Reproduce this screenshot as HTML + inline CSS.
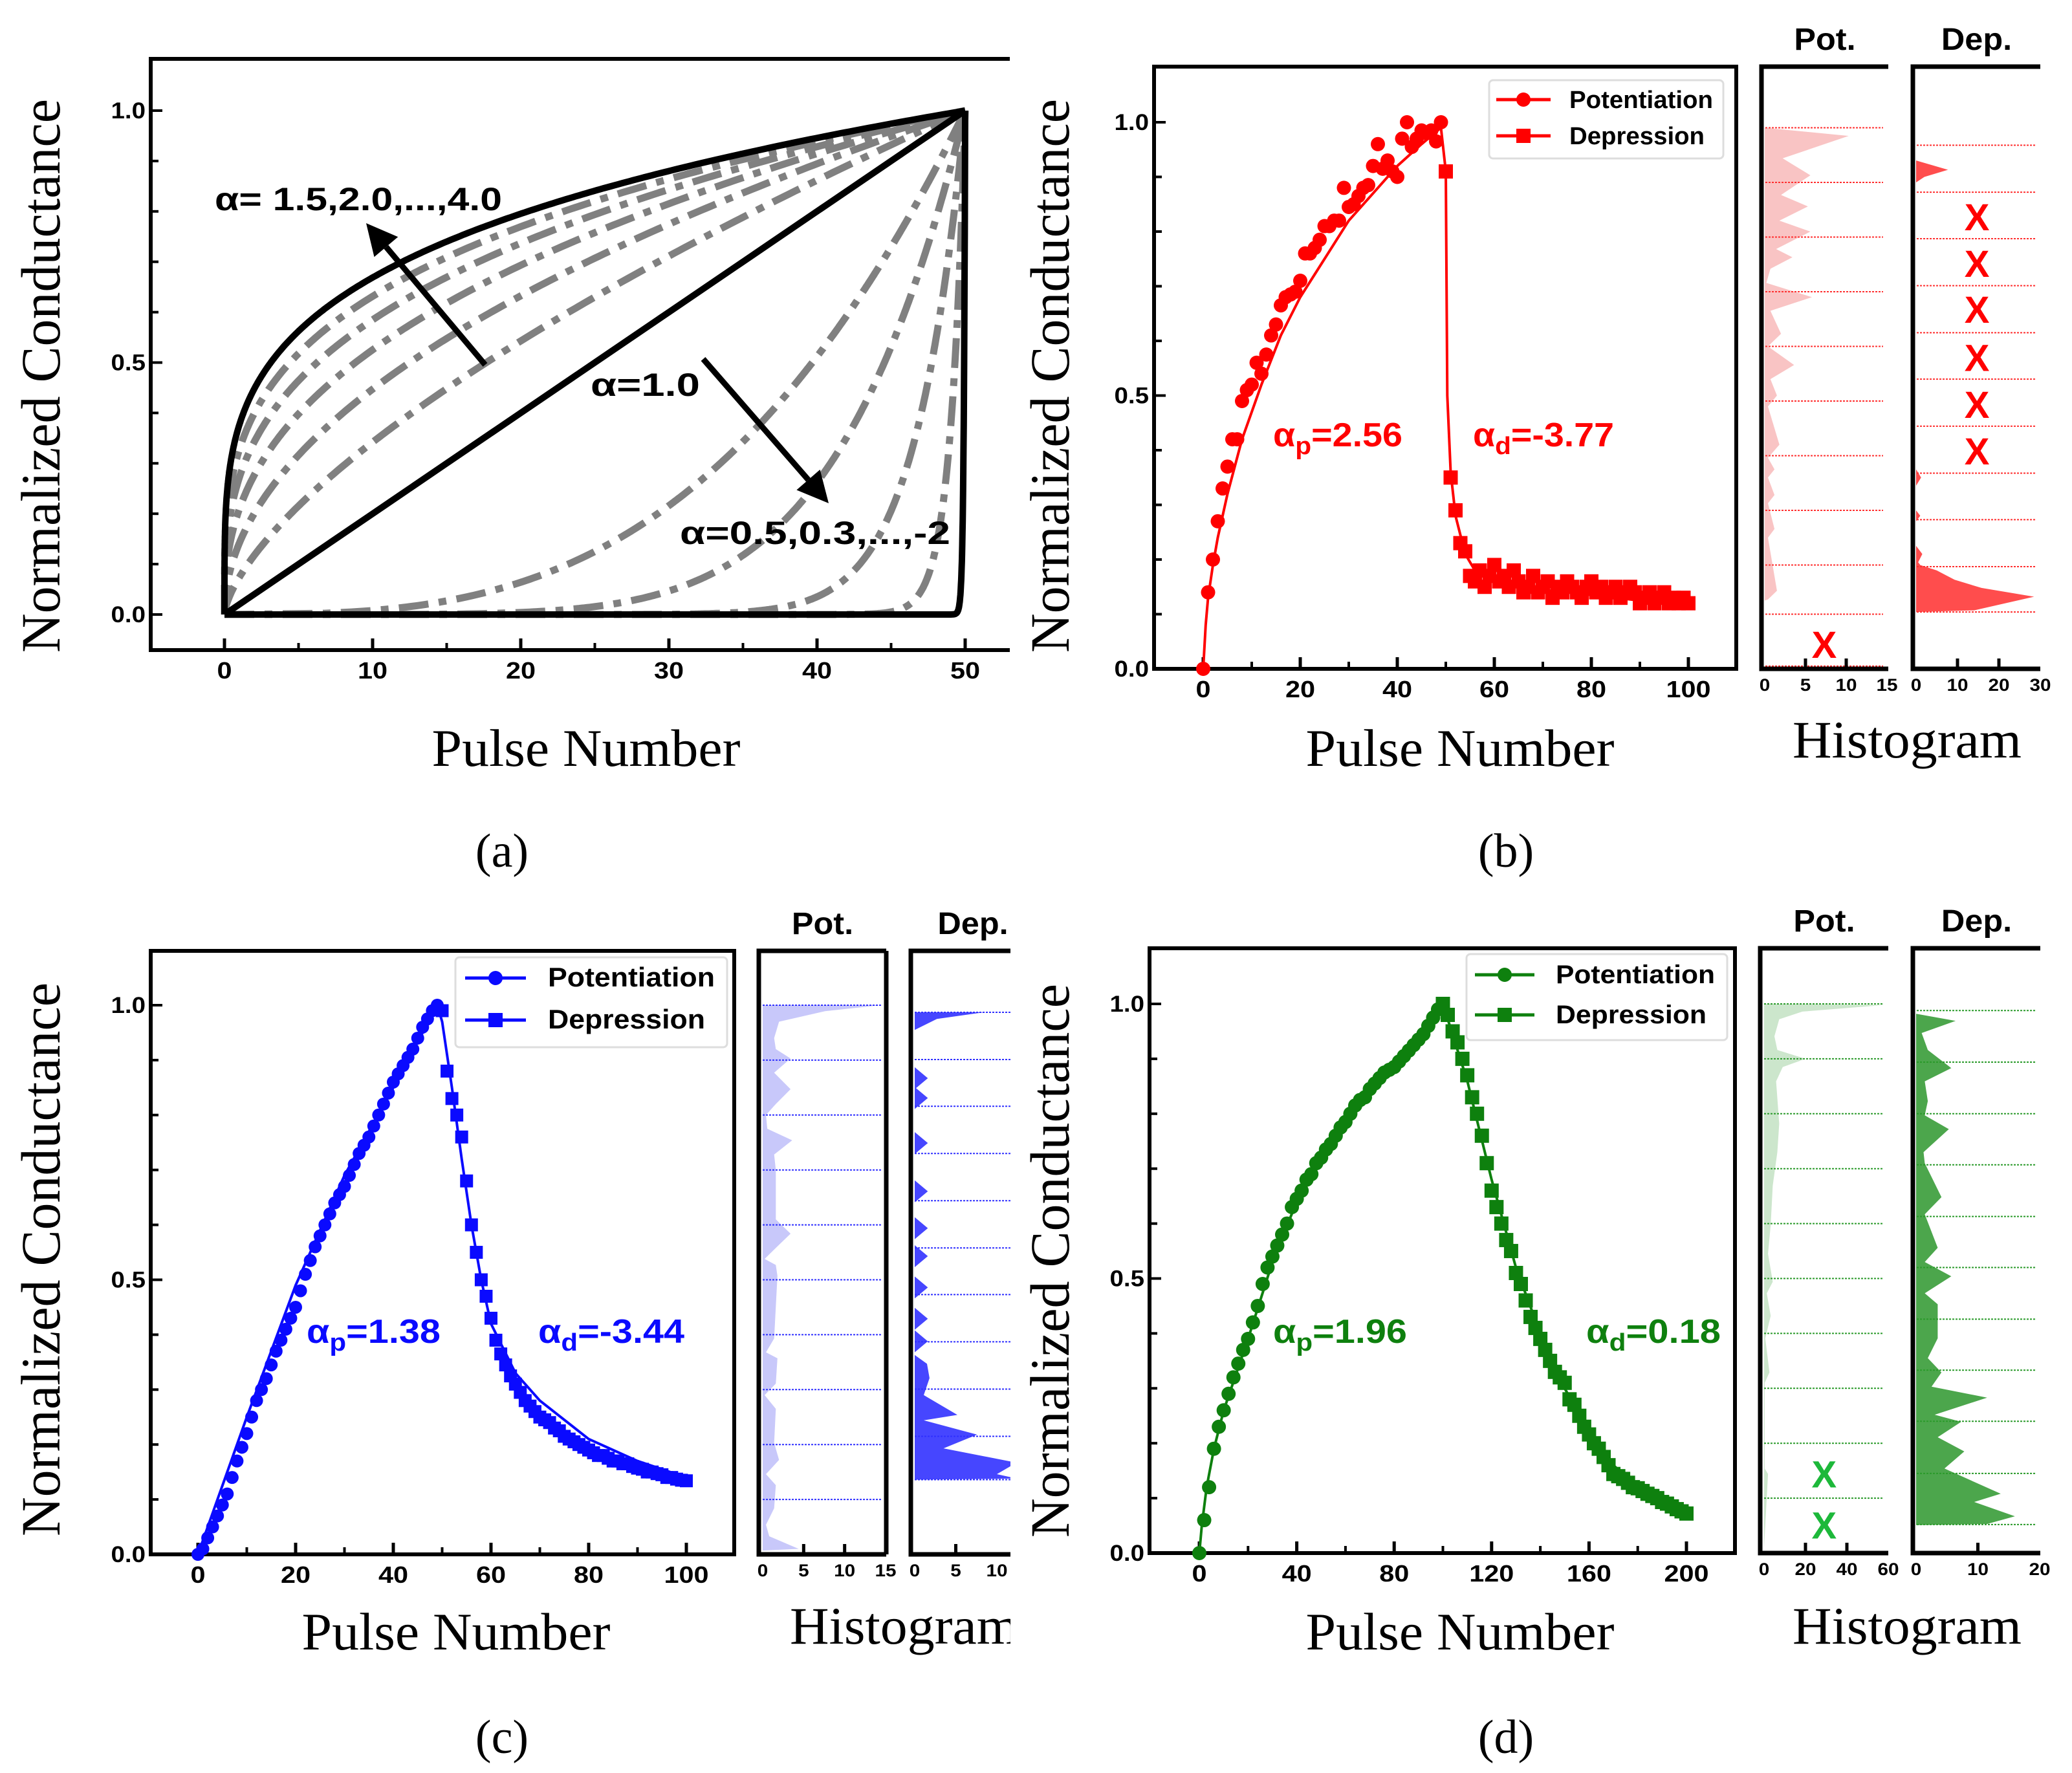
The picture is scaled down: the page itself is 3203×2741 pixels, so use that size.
<!DOCTYPE html>
<html><head><meta charset="utf-8"><title>Nonlinearity figure</title>
<style>html,body{margin:0;padding:0;background:#fff}svg{display:block}</style></head>
<body>
<svg id="fig" xmlns="http://www.w3.org/2000/svg" width="3203" height="2741" viewBox="0 0 3203 2741">
<defs><clipPath id="clipC"><rect x="0" y="1300" width="1562" height="1441"/></clipPath></defs>
<rect x="0" y="0" width="3203" height="2741" fill="#fff"/>
</svg>
<script>
// ---------- DATA ----------
const aUpperAlphas=[1.5,2.0,2.5,3.0,3.5];
const aBlackAlpha=4.0;
const aLowerExps=[3,6,15,50];
const aXTicks=[0,10,20,30,40,50];
const yTicks=[0.0,0.5,1.0];
// (b)
const bPotY=[0,0.14,0.2,0.27,0.33,0.37,0.42,0.42,0.49,0.51,0.52,0.56,0.54,0.575,0.61,0.63,0.665,0.68,0.685,0.69,0.71,0.76,0.76,0.77,0.785,0.81,0.81,0.82,0.82,0.88,0.845,0.85,0.865,0.88,0.885,0.92,0.96,0.915,0.93,0.91,0.90,0.97,1.0,0.955,0.97,0.985,0.98,0.985,0.965,1.0];
const bDepY=[0.91,0.35,0.29,0.23,0.215,0.17,0.16,0.18,0.15,0.17,0.19,0.16,0.17,0.15,0.18,0.16,0.14,0.15,0.17,0.14,0.15,0.16,0.13,0.15,0.14,0.16,0.15,0.14,0.13,0.15,0.16,0.14,0.15,0.13,0.14,0.15,0.13,0.14,0.15,0.14,0.12,0.13,0.14,0.12,0.13,0.14,0.12,0.13,0.12,0.13,0.12];
const bPotFitX=[0,0.5,1,2,3,5,8,12,16,20,25,30,35,40,45,49];
const bPotFitY=[0,0.08,0.13,0.19,0.24,0.32,0.42,0.52,0.61,0.68,0.75,0.82,0.87,0.92,0.96,0.99];
const bDepFitX=[49,50,50.3,51,52,54,56,60,70,80,90,100];
const bDepFitY=[0.99,0.91,0.5,0.36,0.28,0.21,0.18,0.16,0.145,0.135,0.125,0.12];
const bXTicks=[0,20,40,60,80,100];
const bPotHG=[0.99,0.975,0.934,0.903,0.867,0.846,0.82,0.80,0.768,0.753,0.732,0.706,0.68,0.655,0.613,0.59,0.556,0.53,0.5,0.48,0.41,0.386,0.365,0.35,0.318,0.303,0.256,0.24,0.143,0.127,0.125];
const bPotHN=[0,10.3,2.2,5.6,2,5.3,1.8,5.6,1.4,3.4,0.7,0.2,5.8,0.7,2,0.4,3.6,0.7,1.5,0.4,1.8,0.4,1.2,0.4,1.2,0.4,1.2,0.4,1.5,0.4,0];
const bDepHG=[0.93,0.913,0.90,0.89,0.365,0.35,0.335,0.29,0.28,0.27,0.225,0.21,0.195,0.19,0.18,0.163,0.148,0.132,0.107,0.104];
const bDepHN=[0,7.7,2,0,0,1.2,0,0,1,0,0,1.5,0.5,1,5,9.3,15.8,28.5,14,0];
const bPotLines=[0.99,0.89,0.79,0.69,0.59,0.49,0.39,0.29,0.19,0.1,0.005];
const bDepLines=[0.958,0.872,0.787,0.701,0.615,0.53,0.444,0.358,0.273,0.187,0.104];
const bPotXG=[0.045]; const bPotXN=[7.3];
const bDepXG=[0.827,0.742,0.658,0.57,0.484,0.399]; const bDepXN=[14.7,14.7,14.7,14.7,14.7,14.7];
const bPotTicks=[0,5,10,15]; const bDepTicks=[0,10,20,30];
// (c)
const cPotY=[0,0.01,0.03,0.05,0.07,0.09,0.11,0.14,0.17,0.195,0.22,0.25,0.28,0.30,0.32,0.345,0.37,0.39,0.41,0.43,0.45,0.48,0.51,0.535,0.56,0.58,0.60,0.62,0.64,0.655,0.67,0.69,0.71,0.73,0.745,0.76,0.78,0.80,0.82,0.84,0.86,0.875,0.89,0.905,0.92,0.94,0.96,0.975,0.99,1.0];
const cDepY=[0.99,0.88,0.83,0.80,0.76,0.68,0.60,0.55,0.50,0.47,0.43,0.39,0.365,0.345,0.325,0.31,0.295,0.28,0.27,0.26,0.25,0.245,0.24,0.23,0.225,0.215,0.21,0.205,0.20,0.195,0.19,0.185,0.18,0.18,0.175,0.17,0.17,0.165,0.165,0.16,0.157,0.155,0.15,0.15,0.147,0.145,0.14,0.14,0.137,0.135,0.134];
const cPotFitX=[0,10,20,30,40,46,49];
const cPotFitY=[0,0.25,0.49,0.69,0.85,0.95,1.0];
const cDepFitX=[49,50,52,54,56,58,60,65,70,80,90,100];
const cDepFitY=[1,0.97,0.85,0.72,0.6,0.5,0.42,0.33,0.28,0.21,0.17,0.14];
const cXTicks=[0,20,40,60,80,100];
const cPotHG=[1.0,1.0,0.989,0.97,0.94,0.92,0.903,0.877,0.847,0.82,0.80,0.775,0.754,0.728,0.70,0.61,0.584,0.558,0.538,0.527,0.507,0.393,0.368,0.357,0.311,0.29,0.265,0.203,0.172,0.146,0.126,0.084,0.054,0.033,0.01,0.007];
const cPotHN=[0,14.4,7.6,2,1.4,1.6,3.4,1.4,3.4,1.6,0.4,0.56,3.6,1.4,1.6,1.6,3.4,1.6,0.24,1.6,1.8,1.4,0.4,1.8,1.6,0.24,1.6,1.4,2,0.4,1.6,1.4,0.4,0.8,4.4,0];
const cDepHG=[0.987,0.987,0.975,0.955,0.887,0.867,0.847,0.851,0.831,0.811,0.769,0.749,0.729,0.681,0.661,0.641,0.614,0.594,0.574,0.563,0.543,0.523,0.506,0.486,0.466,0.449,0.429,0.409,0.408,0.388,0.368,0.363,0.347,0.321,0.29,0.254,0.244,0.218,0.193,0.167,0.146,0.138,0.136];
const cDepHN=[0,8.4,2.7,0,0,1.6,0,0,1.6,0,0,1.6,0,0,1.6,0,0,1.6,0,0,1.6,0,0,1.6,0,0,1.6,0,0,1.6,0,0,1.5,1.8,1.1,5.2,1.1,7.6,3.5,12.4,10,12.4,0];
const cPotLines=[1.0,0.9,0.8,0.7,0.6,0.5,0.4,0.3,0.2,0.1];
const cDepLines=[0.987,0.901,0.816,0.73,0.644,0.558,0.473,0.387,0.301,0.215,0.136];
const cPotTicks=[0,5,10,15]; const cDepTicks=[0,5,10];
// (d)
const dPotX=[0,2,4,6,8,10,12,14,16,18,20,22,24,26,28,30,32,34,36,38,40,42,44,46,48,50,52,54,56,58,60,62,64,66,68,70,72,74,76,78,80,82,84,86,88,90,92,94,96,98];
const dPotY=[0,0.06,0.12,0.19,0.23,0.26,0.29,0.32,0.345,0.37,0.39,0.42,0.45,0.49,0.52,0.54,0.56,0.58,0.60,0.63,0.645,0.66,0.68,0.69,0.71,0.72,0.735,0.745,0.76,0.775,0.785,0.80,0.815,0.825,0.83,0.845,0.855,0.865,0.875,0.88,0.885,0.895,0.905,0.915,0.925,0.935,0.945,0.96,0.975,0.99];
const dDepX=[100,102,104,106,108,110,112,114,116,118,120,122,124,126,128,130,132,134,136,138,140,142,144,146,148,150,152,154,156,158,160,162,164,166,168,170,172,174,176,178,180,182,184,186,188,190,192,194,196,198,200];
const dDepY=[1.0,0.98,0.95,0.93,0.90,0.87,0.83,0.80,0.76,0.71,0.66,0.63,0.60,0.57,0.55,0.51,0.49,0.46,0.43,0.41,0.39,0.37,0.35,0.33,0.32,0.31,0.28,0.27,0.25,0.23,0.216,0.20,0.19,0.175,0.16,0.144,0.14,0.135,0.128,0.12,0.118,0.113,0.108,0.104,0.10,0.093,0.09,0.085,0.08,0.076,0.072];
const dPotFitX=[0,1,3,6,10,20,30,40,50,60,70,80,90,100];
const dPotFitY=[0,0.05,0.12,0.19,0.26,0.39,0.53,0.64,0.72,0.79,0.845,0.89,0.94,1.0];
const dDepFitX=[100,110,120,130,140,150,160,170,180,190,200];
const dDepFitY=[1.0,0.86,0.68,0.52,0.4,0.3,0.22,0.16,0.12,0.095,0.075];
const dXTicks=[0,40,80,120,160,200];
const dPotHG=[1.0,0.998,0.986,0.972,0.941,0.916,0.90,0.885,0.859,0.782,0.73,0.669,0.597,0.545,0.494,0.473,0.432,0.391,0.329,0.31,0.154,0.144,0.01];
const dPotHN=[0,58,18.5,7.3,5,6.4,20,9,5.8,7.3,6.4,4.2,3.2,1.9,4.2,1.3,3.2,0.6,2.6,0.3,0.3,1.9,0];
const dDepHG=[0.982,0.969,0.947,0.916,0.883,0.859,0.823,0.797,0.772,0.730,0.710,0.648,0.617,0.556,0.530,0.504,0.473,0.453,0.391,0.355,0.329,0.303,0.283,0.252,0.239,0.211,0.185,0.154,0.108,0.093,0.067,0.053,0.051];
const dDepHN=[0,6.4,0.9,1.9,5.7,1.4,1.9,1.4,5.3,1.2,1.4,4.1,1.4,3.5,1.4,5.7,1.4,3.5,3.5,1.9,4.1,2.5,11.5,3,7.3,3.5,7.8,4.6,13.7,9.4,16,11.5,0];
const dPotLines=[1.0,0.9,0.8,0.7,0.6,0.5,0.4,0.3,0.2,0.1];
const dDepLines=[0.988,0.894,0.80,0.707,0.613,0.52,0.426,0.333,0.24,0.145,0.052];
const dPotXG=[0.144,0.051]; const dPotXN=[29,29];
const dPotTicks=[0,20,40,60]; const dDepTicks=[0,10,20];

// ---------- HELPERS ----------
const NS='http://www.w3.org/2000/svg';
const svg=document.getElementById('fig');
function el(tag,attrs,parent){const e=document.createElementNS(NS,tag);for(const k in attrs)e.setAttribute(k,attrs[k]);(parent||svg).appendChild(e);return e;}
function lin(d0,d1,r0,r1){return v=>r0+(v-d0)*(r1-r0)/(d1-d0);}
const SANS='"Liberation Sans", "DejaVu Sans", sans-serif';
const SERIF='"Liberation Serif", "DejaVu Serif", serif';
function stext(parent,x,y,str,size,anchor,sx){
  const t=el('text',{transform:`translate(${x},${y}) scale(${sx||1.2},1)`,'font-family':SANS,'font-weight':'bold','font-size':size,'text-anchor':anchor||'middle',fill:'#000'},parent);
  t.textContent=str;return t;
}
function ltext(parent,x,y,str,size,len,opts){
  opts=opts||{};
  const t=el('text',{x:x,y:y,'font-family':opts.serif?SERIF:SANS,'font-weight':opts.serif?'normal':'bold','font-size':size,'text-anchor':opts.anchor||'start',fill:opts.fill||'#000',textLength:len,lengthAdjust:'spacingAndGlyphs'},parent);
  if(opts.rot)t.setAttribute('transform',`rotate(-90 ${x} ${y})`);
  t.textContent=str;return t;
}
function pathFrom(xs,ys,X,Y){return xs.map((v,i)=>(i?'L':'M')+X(v).toFixed(1)+','+Y(ys[i]).toFixed(1)).join(' ');}

function axesFrame(g,box,X,Y,xt,xminor,topOnlyOpen){
  const {l,r,t,b}=box;
  if(topOnlyOpen){
    const fr=el('path',{d:`M${r},${t} L${l},${t} L${l},${b} L${r},${b}`,fill:'none',stroke:'#000','stroke-width':6},g);
    
  } else {
    const fr=el('rect',{x:l,y:t,width:r-l,height:b-t,fill:'none',stroke:'#000','stroke-width':6},g);
    
  }
  xt.forEach(v=>{
    const tk=el('line',{x1:X(v),x2:X(v),y1:b,y2:b-18,stroke:'#000','stroke-width':5},g);
    
    const lb=stext(g,X(v),b+44,String(v),36,'middle',1.15);
    
  });
  xminor.forEach(v=>{
    const tk=el('line',{x1:X(v),x2:X(v),y1:b,y2:b-11,stroke:'#000','stroke-width':4},g);
    
  });
  for(let k=0;k<=10;k++){
    const v=k/10;
    const tk=el('line',{x1:l,x2:l+(k%5===0?18:12),y1:Y(v),y2:Y(v),stroke:'#000','stroke-width':4},g);
    
  }
  yTicks.forEach(v=>{
    const lb=stext(g,l-8,Y(v)+12,v.toFixed(1),35,'end',1.1);
    
  });
}

function scatter(g,xs,ys,X,Y,color,shape,r){
  xs.forEach((v,i)=>{
    let m;
    if(shape==='circle'){m=el('circle',{cx:X(v),cy:Y(ys[i]),r:r,fill:color},g);}
    else {m=el('rect',{x:X(v)-r,y:Y(ys[i])-r,width:2*r,height:2*r,fill:color},g);}
    
    
  });
}
function seq(start,n){const a=[];for(let i=0;i<n;i++)a.push(start+i);return a;}

function histPanel(g,box,Y,c0,cMax,cMaxPx,HG,HN,lines,fill,lineColor,ticks,title,name){
  const {l,r,t,b}=box;
  const C=lin(0,cMax,c0,cMaxPx);
  const hg=el('g',{},g);
  const pts=[[C(0),Y(HG[0])]].concat(HG.map((v,i)=>[C(HN[i]),Y(v)])).concat([[C(0),Y(HG[HG.length-1])]]);
  const poly=el('polygon',{points:pts.map(p=>p[0].toFixed(1)+','+p[1].toFixed(1)).join(' '),fill:fill},hg);
  
  lines.forEach(v=>{
    const ln=el('line',{x1:l+6,x2:r-8,y1:Y(v),y2:Y(v),stroke:lineColor,'stroke-width':2,'stroke-dasharray':'3,2'},hg);
    
  });
  const fr=el('path',{d:`M${r},${t} L${l},${t} L${l},${b} L${r},${b}`+(r<1560?` M${r},${t} L${r},${b}`:''),fill:'none',stroke:'#000','stroke-width':7},hg);
  
  ticks.forEach((v,i)=>{
    if(i>0&&i<ticks.length-1){
      const tk=el('line',{x1:C(v),x2:C(v),y1:b,y2:b-16,stroke:'#000','stroke-width':5},hg);
      
    }
    const lb=stext(hg,C(v),b+34,String(v),27,'middle',1.1);
    
  });
  const tt=stext(hg,(l+r)/2,t-26,title,48,'middle',1.05);
  
  return C;
}
function xMarks(g,C,Y,XG,XN,color){
  XG.forEach((v,i)=>{
    const m=el('text',{x:C(XN[i]),y:Y(v)+21,'font-family':SANS,'font-weight':'bold','font-size':58,'text-anchor':'middle',fill:color},g);
    m.textContent='X';
    
  });
}
function legend(g,bx,by,bw,bh,lx0,lx1,tx,y1,y2,color,fs,len1,len2){
  const lg=el('g',{},g);
  const rc=el('rect',{x:bx,y:by,width:bw,height:bh,rx:6,fill:'#fff',stroke:'#ddd','stroke-width':3},lg);
  
  [[y1,'circle','Potentiation',len1],[y2,'square','Depression',len2]].forEach(e=>{
    const ln=el('line',{x1:lx0,x2:lx1,y1:e[0],y2:e[0],stroke:color,'stroke-width':5},lg);
    
    const cx=(lx0+lx1)/2;
    const m=e[1]==='circle'?el('circle',{cx:cx,cy:e[0],r:11,fill:color},lg):el('rect',{x:cx-11,y:e[0]-11,width:22,height:22,fill:color},lg);
    
    const t=ltext(lg,tx,e[0]+13,e[2],fs,e[3]);
    
  });
}
function alphaText(g,x,y,sub,val,len,color){
  const t=el('text',{x:x,y:y,'font-family':SANS,'font-weight':'bold','font-size':52,fill:color,textLength:len,lengthAdjust:'spacingAndGlyphs'},g);
  const a=el('tspan',{},t);a.textContent='α';
  const s=el('tspan',{'font-size':38,dy:12},t);s.textContent=sub;
  const v=el('tspan',{dy:-12},t);v.textContent=val;
  
}
function titles(g,ytx,yty,ylen,pnx,pny,label,lx,ly,hx,hy,hlen){
  const yt=ltext(g,ytx,yty,'Normalized Conductance',86,ylen,{serif:true,anchor:'middle',rot:true});
  
  const xt=ltext(g,pnx,pny,'Pulse Number',82,477,{serif:true,anchor:'middle'});
  
  if(hx!==undefined){
    const ht=ltext(g,hx,hy,'Histogram',82,354,{serif:true,anchor:'middle'});
    
  }
  const pl=el('text',{x:lx,y:ly,'font-family':SERIF,'font-size':74,'text-anchor':'middle',fill:'#000'},g);
  pl.textContent=label;
  
}

// ---------- PANEL A ----------
(function(){
  const g=el('g',{});
  const X=lin(0,50,347,1492),Y=lin(0,1,950,171);
  const pathFn=(fn,n,warp)=>{let d='';for(let i=0;i<=n;i++){const tt=i/n;const p=warp?Math.pow(tt,warp):tt;d+=(i?'L':'M')+X(p*50).toFixed(1)+','+Y(fn(p)).toFixed(1)+' ';}return d;};
  aUpperAlphas.forEach(a=>{
    const c=el('path',{d:pathFn(p=>Math.pow(p,1/a),300,3),fill:'none',stroke:'#808080','stroke-width':11,'stroke-dasharray':'46,16,12,16'},g);
    
  });
  aLowerExps.forEach(k=>{
    const c=el('path',{d:pathFn(p=>Math.pow(p,k),400,1/3),fill:'none',stroke:'#808080','stroke-width':11,'stroke-dasharray':'46,16,12,16'},g);
    
  });
  const bu=el('path',{d:pathFn(p=>Math.pow(p,1/aBlackAlpha),400,3),fill:'none',stroke:'#000','stroke-width':10},g);
  
  const bl=el('path',{d:pathFn(p=>p,10),fill:'none',stroke:'#000','stroke-width':10},g);
  
  const bb=el('path',{d:pathFn(p=>Math.pow(p,500),600,1/6),fill:'none',stroke:'#000','stroke-width':10},g);
  
  axesFrame(g,{l:233,r:1561,t:91,b:1005},X,Y,aXTicks,[5,15,25,35,45],true);
  function arrow(x1,y1,x2,y2,name){
    const ang=Math.atan2(y2-y1,x2-x1),L=48,W=24;
    const bx=x2-L*Math.cos(ang),by=y2-L*Math.sin(ang);
    const ln=el('line',{x1:x1,y1:y1,x2:bx,y2:by,stroke:'#000','stroke-width':9},g);
    
    const hp=el('polygon',{points:`${x2},${y2} ${bx+W*Math.sin(ang)},${by-W*Math.cos(ang)} ${bx-W*Math.sin(ang)},${by+W*Math.cos(ang)}`,fill:'#000'},g);
    
  }
  arrow(750,564,566,345,'arrow-up');
  arrow(1087,555,1281,778,'arrow-down');
  const t1=ltext(g,332,325,'α= 1.5,2.0,...,4.0',50,444);
  const t2=ltext(g,913,612,'α=1.0',50,169);
  const t3=ltext(g,1051,841,'α=0.5,0.3,...,-2',50,418);
  titles(g,92,581,856,906,1184,'(a)',776,1340);
})();

// ---------- PANEL B ----------
(function(){
  const g=el('g',{});
  const X=lin(0,100,1860,2610),Y=lin(0,1,1034,189);
  const col='#ff0000';
  axesFrame(g,{l:1784,r:2684,t:103,b:1034},X,Y,bXTicks,[10,30,50,70,90]);
  const f1=el('path',{d:pathFrom(bPotFitX,bPotFitY,X,Y),fill:'none',stroke:col,'stroke-width':4},g);
  
  const f2=el('path',{d:pathFrom(bDepFitX,bDepFitY,X,Y),fill:'none',stroke:col,'stroke-width':4},g);
  
  scatter(g,seq(0,bPotY.length),bPotY,X,Y,col,'circle',11);
  scatter(g,seq(50,bDepY.length),bDepY,X,Y,col,'square',11);
  legend(g,2302,124,362,121,2313,2397,2426,154,210,col,38,222,209);
  alphaText(g,1968,690,'p','=2.56',200,col);
  alphaText(g,2277,690,'d','=-3.77',218,col);
  const Cp=histPanel(g,{l:2723,r:2919,t:103,b:1034},Y,2728,15,2917,bPotHG,bPotHN,bPotLines,'#f9c4c4','#ff3030',bPotTicks,'Pot.','pot-histogram');
  xMarks(g,Cp,Y,bPotXG,bPotXN,col);
  const Cd=histPanel(g,{l:2957,r:3154,t:103,b:1034},Y,2962,30,3154,bDepHG,bDepHN,bDepLines,'#ff4d4d','#ff3030',bDepTicks,'Dep.','dep-histogram');
  xMarks(g,Cd,Y,bDepXG,bDepXN,col);
  titles(g,1652,581,856,2257,1184,'(b)',2328,1340,2948,1171,354);
})();

// ---------- PANEL C ----------
(function(){
  const g=el('g',{});
  const X=lin(0,100,306,1061),Y=lin(0,1,2403,1554);
  const col='#0a0aff';
  axesFrame(g,{l:233,r:1135,t:1470,b:2403},X,Y,cXTicks,[10,30,50,70,90]);
  const f1=el('path',{d:pathFrom(cPotFitX,cPotFitY,X,Y),fill:'none',stroke:col,'stroke-width':4},g);
  
  const f2=el('path',{d:pathFrom(cDepFitX,cDepFitY,X,Y),fill:'none',stroke:col,'stroke-width':4},g);
  
  scatter(g,seq(0,cPotY.length),cPotY,X,Y,col,'circle',10);
  scatter(g,seq(50,cDepY.length),cDepY,X,Y,col,'square',10);
  legend(g,704,1480,420,139,719,813,847,1512,1577,col,42,258,243);
  alphaText(g,474,2076,'p','=1.38',207,col);
  alphaText(g,832,2076,'d','=-3.44',226,col);
  histPanel(g,{l:1173,r:1370,t:1470,b:2403},Y,1179,15,1369,cPotHG,cPotHN,cPotLines,'#c8c8fa','#3030ff',cPotTicks,'Pot.','pot-histogram');
  const cg=el('g',{'clip-path':'url(#clipC)'},g);
  histPanel(cg,{l:1408,r:1600,t:1470,b:2403},Y,1414,10,1541,cDepHG,cDepHN,cDepLines,'#4646ff','#3030ff',cDepTicks,'Dep.','dep-histogram');
  const hc=el('g',{'clip-path':'url(#clipC)'},g);
  const ht=ltext(hc,1221,2541,'Histogram',82,354,{serif:true});
  
  titles(g,92,1947,856,705,2550,'(c)',776,2710);
})();

// ---------- PANEL D ----------
(function(){
  const g=el('g',{});
  const X=lin(0,200,1854,2607),Y=lin(0,1,2401,1552);
  const col='#0e800e';
  axesFrame(g,{l:1777,r:2682,t:1466,b:2401},X,Y,dXTicks,[20,60,100,140,180]);
  const f1=el('path',{d:pathFrom(dPotFitX,dPotFitY,X,Y),fill:'none',stroke:col,'stroke-width':4},g);
  
  const f2=el('path',{d:pathFrom(dDepFitX,dDepFitY,X,Y),fill:'none',stroke:col,'stroke-width':4},g);
  
  scatter(g,dPotX,dPotY,X,Y,col,'circle',11);
  scatter(g,dDepX,dDepY,X,Y,col,'square',11);
  legend(g,2267,1475,403,133,2280,2372,2405,1507,1569,col,40,246,233);
  alphaText(g,1968,2076,'p','=1.96',207,col);
  alphaText(g,2452,2076,'d','=0.18',208,col);
  const Cp=histPanel(g,{l:2721,r:2919,t:1466,b:2401},Y,2727,60,2919,dPotHG,dPotHN,dPotLines,'#cce6cc','#2a9a2a',dPotTicks,'Pot.','pot-histogram');
  xMarks(g,Cp,Y,dPotXG,dPotXN,'#1db83a');
  histPanel(g,{l:2957,r:3154,t:1466,b:2401},Y,2962,20,3153,dDepHG,dDepHN,dDepLines,'#4ca64c','#2a9a2a',dDepTicks,'Dep.','dep-histogram');
  titles(g,1652,1949,856,2257,2550,'(d)',2328,2710,2948,2541,354);
})();
</script>
</body></html>
